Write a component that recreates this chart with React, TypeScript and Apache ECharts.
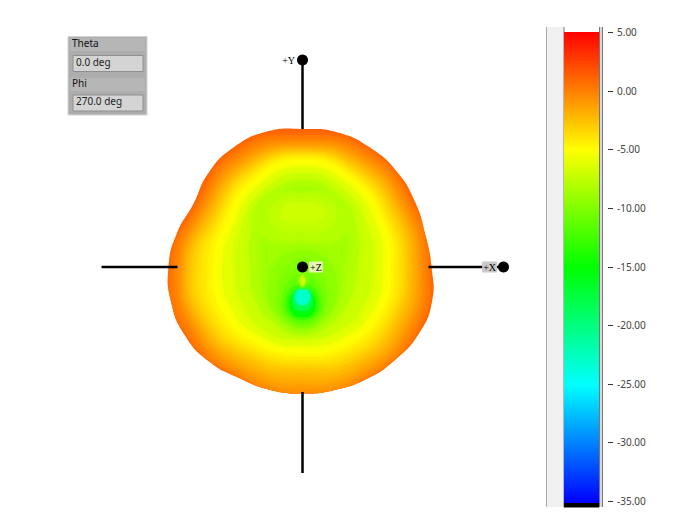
import React, { useEffect, useRef } from "react";
import * as echarts from "echarts";

// Colour scale of the gain in dB
const scaleTicks = [5, 0, -5, -10, -15, -20, -25, -30, -35];
const scaleColors = ["#0000ff", "#00ffff", "#00ff00", "#ffff00", "#ff0000"]; // -35 .. 5

// Outer outline of the pattern: radii every 15 degrees
const outlineRadii = [129, 127, 130, 134, 137, 139, 138, 140, 138, 133, 126, 130, 134, 136, 136, 133, 128, 127, 126.5, 127, 129, 131, 134, 134];
const outlineDb = 1.2;

// Contours: level, centre, radii every 30 degrees
const contourDb = [0.5, 0, -0.5, -1, -1.5, -2, -2.5, -3, -3.5, -4, -4.5, -5, -6, -7, -8, -8.7, -8, -7.5, -7, -9.4, -10, -11, -12.5, -15, -18, -23, -7];
const contourCy = [0, 0, 0, 0, 0, 0, 0, 0, 0, 0, 0, 0, 0, 0, 0, 0, 50, 52, 54, -15, -20, -30, -35, -38, -34, -31, -14];
const contourRadii = [
  [127, 127, 134, 132, 134, 122, 132, 134, 127, 127, 128, 132],
  [123, 124, 130, 127, 130, 119, 128, 130, 126, 126.5, 127, 128],
  [119, 120, 127, 125, 126, 116, 123, 126, 124, 126, 125, 124],
  [116, 117, 123, 122, 122, 113, 120, 122, 120, 122, 122, 120],
  [113, 114, 120, 119, 119, 110, 118, 119, 116, 117, 118, 117],
  [110, 111, 117, 117, 116, 107, 115, 116, 112, 112, 114, 113],
  [106, 108, 114, 115, 113, 104, 112, 113, 108, 106, 110, 109],
  [103, 105, 111, 113, 110, 101, 110, 110, 104, 101, 106, 105],
  [100, 102, 108, 112, 108, 98, 106, 106, 100, 97, 102, 102],
  [96, 98, 106, 110, 105, 95, 101, 102, 96, 93, 98, 98],
  [92, 95, 103, 108.5, 102, 92, 95, 97, 92, 89, 93, 94],
  [88, 92, 101, 107, 99, 88, 89, 91, 88, 86, 89, 90],
  [80, 85, 94, 100, 92, 80, 80, 82, 81, 79, 81, 82],
  [70, 76, 87, 94, 85, 72, 67, 70, 74, 72, 73, 72],
  [54, 64, 78, 87, 76, 60, 52, 56, 62, 68, 62, 56],
  [42, 52, 72, 80, 70, 48, 42, 46, 54, 62, 54, 44],
  [50, 42, 30, 24, 30, 42, 50, 42, 30, 24, 30, 42],
  [34, 28, 20, 17, 20, 28, 34, 28, 20, 15, 20, 28],
  [22, 17, 12, 10, 12, 17, 22, 17, 12, 9, 12, 17],
  [34, 33, 32, 31, 32, 33, 34, 38, 42, 46, 42, 38],
  [24, 24, 25, 28, 25, 24, 24, 29, 35, 40, 35, 29],
  [20, 20, 21, 22, 21, 20, 20, 23, 26, 27, 26, 23],
  [17, 17, 18, 18, 18, 17, 17, 18, 18, 18, 18, 18],
  [13, 14, 15, 15, 15, 14, 13, 13, 13, 12, 13, 13],
  [9, 10, 11, 11, 11, 10, 9, 10, 10, 10, 10, 10],
  [7, 8, 9, 8, 9, 8, 7, 7, 7, 7, 7, 7],
  [3, 3, 4, 6, 4, 3, 3, 3, 4, 6, 4, 3],
];

// Axis segments and end markers
const axisSegments = [
  [[0, 207], [0, 138]],
  [[0, -125], [0, -206]],
  [[-201, 0], [-125, 0]],
  [[126, 0], [201, 0]],
];
const axisMarkers = [
  { name: "+Y", value: [0, 207], position: "left", bg: "#ffffff" },
  { name: "+X", value: [201, 0], position: "left", bg: "#c9c9c9" },
  { name: "+Z", value: [0, 0], position: "right", bg: "#e6f7b4" },
];

// Readout panel
const readoutLabels = ["Theta", "Phi"];
const readoutValues = ["0.0 deg", "270.0 deg"];

const colorOf = (db: number) => echarts.color.lerp((db + 35) / 40, scaleColors) as string;

function ringPoints(api: any, cy: number, radii: number[]) {
  return radii.map((r, i) => {
    const a = (i * 2 * Math.PI) / radii.length;
    return api.coord([r * Math.cos(a), cy + r * Math.sin(a)]);
  });
}

function renderContour(params: any, api: any) {
  const i = params.dataIndex;
  const outer = i === 0;
  const db = outer ? outlineDb : contourDb[i - 1];
  const outline = ringPoints(api, 0, outlineRadii);
  const points = outer ? outline : ringPoints(api, contourCy[i - 1], contourRadii[i - 1]);
  const fill = colorOf(db);
  return {
    type: "polygon",
    shape: { points, smooth: 0.5 },
    style: outer ? { fill } : { fill, shadowBlur: i > 22 ? 4 : 8, shadowColor: fill },
    clipPath: outer ? undefined : { type: "polygon", shape: { points: outline, smooth: 0.5 } },
  };
}

function renderScale(_: any, api: any) {
  const tl = api.coord([0, 5]);
  const br = api.coord([35, -35]);
  const end = api.coord([35, -35.55]);
  return {
    type: "group",
    children: [
      {
        type: "rect",
        shape: { x: tl[0], y: tl[1], width: br[0] - tl[0], height: br[1] - tl[1] + 2 },
        style: {
          fill: new echarts.graphic.LinearGradient(0, 1, 0, 0, scaleColors.map((color, k) => ({ offset: k / (scaleColors.length - 1), color }))),
        },
      },
      {
        type: "rect",
        shape: { x: tl[0], y: br[1] + 2, width: br[0] - tl[0], height: end[1] - br[1] - 2 },
        style: { fill: "#000000" },
      },
      ...scaleTicks.map((t) => {
        const a = api.coord([44, t]);
        const b = api.coord([49, t]);
        return {
          type: "line",
          shape: { x1: a[0], y1: Math.round(a[1]) + 0.5, x2: b[0], y2: Math.round(b[1]) + 0.5 },
          style: { stroke: "#333333", lineWidth: 1 },
        };
      }),
    ],
  };
}

function panelGraphics() {
  const font = '10px "Noto Sans", sans-serif';
  const labelY = [38, 78];
  const fieldY = [55.5, 95];
  const children: any[] = [
    { type: "rect", shape: { x: 68, y: 36.5, width: 79, height: 78.5 }, style: { fill: "#adadad", stroke: "#d4d4d4", lineWidth: 1 } },
  ];
  readoutLabels.forEach((label, i) => {
    children.push(
      { type: "rect", shape: { x: 70, y: labelY[i], width: 75, height: 13 }, style: { fill: "#b6b6b6" } },
      { type: "text", x: 72, y: labelY[i] - 0.5, style: { text: label, font, fill: "#111111" } },
      { type: "rect", shape: { x: 73, y: fieldY[i], width: 70, height: 16 }, style: { fill: "#d4d4d4", stroke: "#8f8f8f", lineWidth: 1 } },
      { type: "text", x: 76, y: fieldY[i] + 1, style: { text: readoutValues[i], font, fill: "#222222" } },
    );
  });
  const frame: any[] = [
    { type: "rect", shape: { x: 546.5, y: 27, width: 17, height: 480 }, style: { fill: "#f0f0f0" } },
    { type: "line", shape: { x1: 546.5, y1: 27, x2: 546.5, y2: 507 }, style: { stroke: "#a8a8a8", lineWidth: 1 } },
    { type: "line", shape: { x1: 564, y1: 27, x2: 564, y2: 507 }, style: { stroke: "#777777", lineWidth: 1 } },
    { type: "line", shape: { x1: 599.5, y1: 27, x2: 599.5, y2: 507 }, style: { stroke: "#777777", lineWidth: 1 } },
    { type: "rect", shape: { x: 600, y: 27, width: 2, height: 480 }, style: { fill: "#d8d8d8" } },
    { type: "line", shape: { x1: 602.5, y1: 27, x2: 602.5, y2: 507 }, style: { stroke: "#777777", lineWidth: 1 } },
  ];
  return [...children, ...frame];
}

export default function App() {
  const ref = useRef<HTMLDivElement>(null);
  useEffect(() => {
    document.body.style.margin = "0";
    const chart = echarts.init(ref.current!, null, { renderer: "svg" });
    chart.setOption({
      animation: false,
      backgroundColor: "#ffffff",
      grid: [
        { left: 0, top: 0, width: 700, height: 530, show: false },
        { left: 564, top: 32, width: 44, height: 469, show: false },
      ],
      xAxis: [
        { type: "value", gridIndex: 0, min: -302.5, max: 397.5, show: false },
        { type: "value", gridIndex: 1, min: 0, max: 44, show: false },
      ],
      yAxis: [
        { type: "value", gridIndex: 0, min: -263, max: 267, show: false },
        {
          type: "value",
          gridIndex: 1,
          position: "right",
          min: -35,
          max: 5,
          axisLine: { show: false },
          axisTick: { show: false },
          splitLine: { show: false },
          axisLabel: {
            margin: 9,
            color: "#444444",
            fontSize: 10,
            fontFamily: "Noto Sans",
            customValues: scaleTicks,
            formatter: (v: number) => v.toFixed(2),
          },
        },
      ],
      graphic: panelGraphics(),
      series: [
        {
          type: "custom",
          xAxisIndex: 0,
          yAxisIndex: 0,
          coordinateSystem: "cartesian2d",
          clip: false,
          renderItem: renderContour,
          data: [outlineDb, ...contourDb].map((db, i) => [i, db]),
          silent: true,
          z: 1,
        },
        ...axisSegments.map((data) => ({
          type: "line",
          xAxisIndex: 0,
          yAxisIndex: 0,
          data,
          symbol: "none",
          lineStyle: { color: "#000000", width: 2.5 },
          silent: true,
          z: 2,
        })),
        {
          type: "scatter",
          xAxisIndex: 0,
          yAxisIndex: 0,
          symbolSize: 11,
          itemStyle: { color: "#000000", opacity: 1 },
          silent: true,
          z: 3,
          data: axisMarkers.map((m) => ({
            name: m.name,
            value: m.value,
            label: {
              show: true,
              formatter: "{b}",
              position: m.position,
              distance: 1,
              color: "#000000",
              fontFamily: "Liberation Serif",
              fontSize: 10,
              backgroundColor: m.bg,
              padding: [1, 1, 0, 1],
            },
          })),
        },
        {
          type: "custom",
          xAxisIndex: 1,
          yAxisIndex: 1,
          coordinateSystem: "cartesian2d",
          clip: false,
          renderItem: renderScale,
          data: [[0, 5]],
          silent: true,
          z: 1,
        },
      ],
    });
    return () => chart.dispose();
  }, []);
  return <div ref={ref} style={{ width: 700, height: 530 }} />;
}
